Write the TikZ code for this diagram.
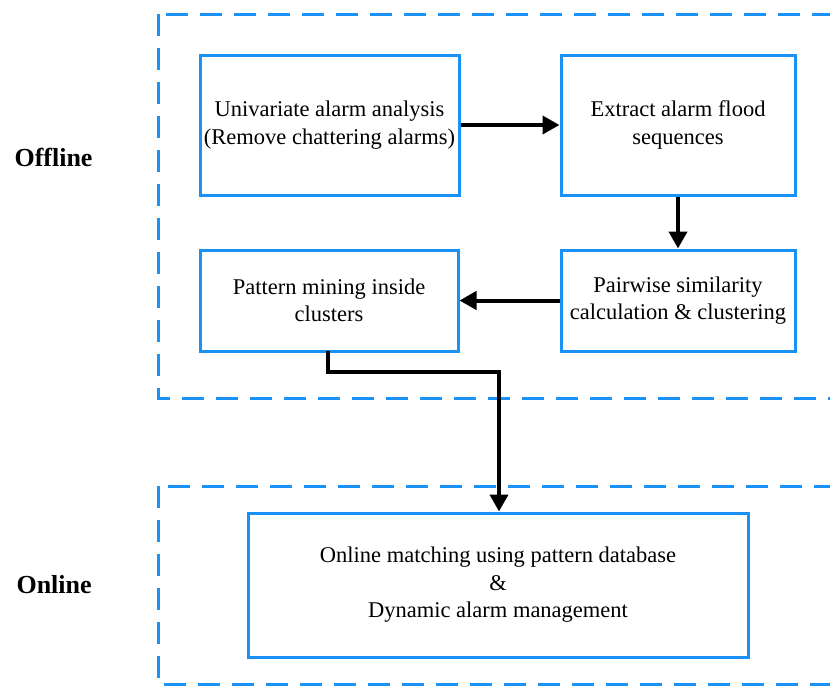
\documentclass[tikz,border=0pt]{standalone}
\usepackage{fontspec}
\setmainfont{Liberation Serif}
\usetikzlibrary{arrows.meta}
\definecolor{fblue}{RGB}{25,145,245}
\begin{document}
\begin{tikzpicture}[x=1pt,y=-1pt,
  group/.style={draw=fblue,line width=3pt,dash pattern=on 22pt off 12pt},
  stepbox/.style={draw=fblue,line width=3pt,fill=white,font=\fontsize{22.5}{27.5}\selectfont,align=center,inner sep=0pt},
  flow/.style={draw=black,line width=4pt,-{Triangle[length=17pt,width=18pt]}},
  side/.style={font=\fontsize{26}{30}\selectfont\bfseries}]
\useasboundingbox (0,0) rectangle (830,688);
\draw[group] (158,14) rectangle (860,398);
\draw[group] (158,486) rectangle (860,684);
\node[side,anchor=west] (off) at (11,157) {Offline};
\node[side,anchor=west] (on) at (13,585) {Online};
\node[stepbox,minimum width=259pt,minimum height=140pt] (b1) at (329.5,125) {Univariate alarm analysis\\(Remove chattering alarms)};
\node[stepbox,minimum width=234pt,minimum height=140pt] (b2) at (678,125) {Extract alarm flood\\sequences};
\node[stepbox,minimum width=258pt,minimum height=101pt] (b3) at (329,300.5) {Pattern mining inside\\clusters};
\node[stepbox,minimum width=234pt,minimum height=101pt] (b4) at (678,300.5) {Pairwise similarity\\calculation \& clustering};
\node[stepbox,minimum width=500pt,minimum height=144pt] (b5) at (498,585) {Online matching using pattern database\\\&\\Dynamic alarm management};
\coordinate (c1) at (328,372);
\coordinate (c2) at (499,372);
\draw[flow] (b1.east) -- (b2.west);
\draw[flow] (b2.south) -- (b4.north);
\draw[flow] (b4.west) -- (b3.east);
\draw[flow,line join=miter] (328,351) -- (c1) -- (c2) -- (c2 |- b5.north);
\end{tikzpicture}
\end{document}
